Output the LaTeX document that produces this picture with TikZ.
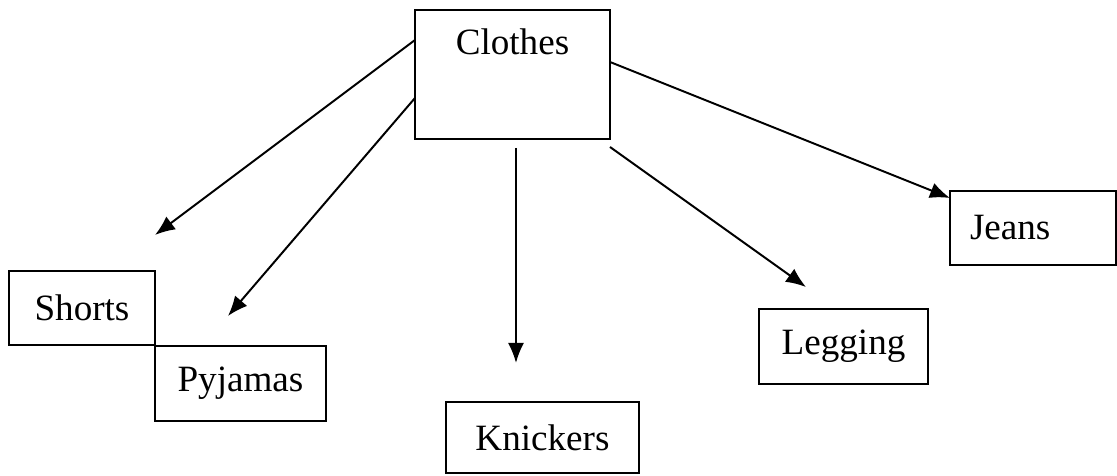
\documentclass[tikz,border=0pt]{standalone}
\usepackage{fontspec}
\setmainfont{Liberation Serif}
\usetikzlibrary{arrows.meta}
\tikzset{
    item/.style={draw,line width=0.7pt,minimum height=0.925cm,font=\fontsize{13.2}{16}\selectfont},
    link/.style={line width=0.7pt,-{Latex[length=0.25cm,width=0.2cm]}}
}
\begin{document}
\begin{tikzpicture}
    \useasboundingbox (0,0) rectangle (13.9625,5.95);
    % top box, word sits at the top
    \node[item,anchor=north,minimum width=2.4375cm,inner sep=0pt,text height=0.5625cm,text depth=1.05cm] (clothes) at (6.406,5.8375) {Clothes};
    \node[item,minimum width=1.825cm] (shorts) at (1.025,2.1) {Shorts};
    \node[item,minimum width=2.1375cm,minimum height=0.9375cm] (pyjamas) at (3.006,1.156) {Pyjamas};
    \node[item,minimum width=2.4125cm,minimum height=0.8875cm] (knickers) at (6.781,0.481) {Knickers};
    \node[item,minimum width=2.1125cm,minimum height=0.9375cm] (legging) at (10.544,1.619) {Legging};
    \node[item,text width=1.575cm,inner xsep=0.25cm,align=left] (jeans) at (12.9125,3.1) {Jeans};
    % arrow ends
    \coordinate (c1) at (5.1875,5.45);
    \coordinate (c2) at (5.1875,4.725);
    \coordinate (c3) at (6.45,4.1);
    \coordinate (c4) at (7.625,4.1125);
    \coordinate (c5) at (7.625,5.175);
    \coordinate (t1) at (1.9375,3.0125);
    \coordinate (t2) at (2.85,2.0);
    \coordinate (t3) at (6.45,1.4125);
    \coordinate (t4) at (10.075,2.3625);
    \coordinate (t5) at (11.875,3.475);
    \draw[link] (c1) -- (t1);
    \draw[link] (c2) -- (t2);
    \draw[link] (c3) -- (t3);
    \draw[link] (c4) -- (t4);
    \draw[link] (c5) -- (t5);
\end{tikzpicture}
\end{document}
